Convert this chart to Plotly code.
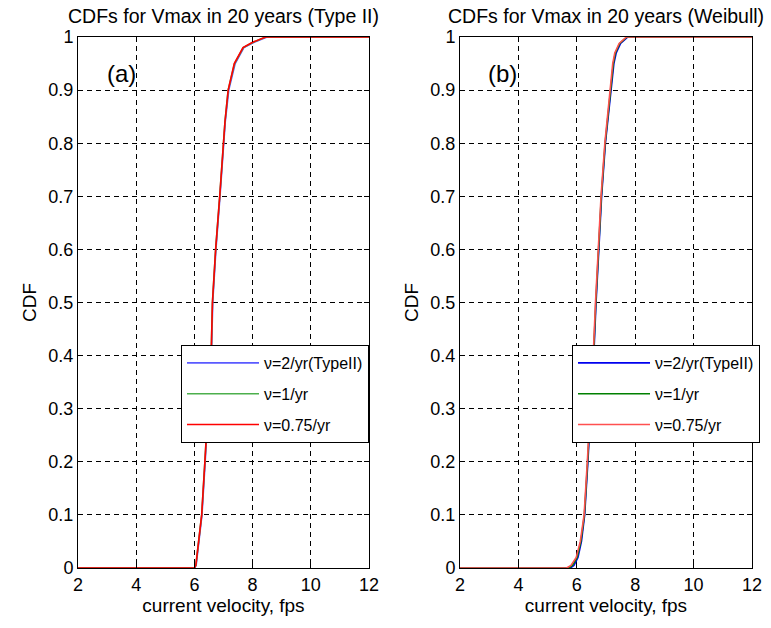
import plotly.graph_objects as go

# ---- data ----
# (a) Type II
a_cdf = [0, 0, 0.005, 0.1, 0.2, 0.3, 0.41, 0.5, 0.6, 0.7, 0.8, 0.84, 0.9, 0.95, 0.98, 0.99, 1.0, 1.0]
a_red_v = [2, 6.0, 6.05, 6.25, 6.36, 6.47, 6.58, 6.62, 6.73, 6.87, 7.0, 7.05, 7.16, 7.37, 7.67, 8.0, 8.45, 12]
a_grn_v = [2, 6.0, 6.05, 6.25, 6.36, 6.47, 6.58, 6.62, 6.73, 6.87, 7.0, 7.05, 7.16, 7.38, 7.68, 8.02, 8.45, 12]
a_blu_v = [2, 6.01, 6.06, 6.26, 6.37, 6.48, 6.59, 6.63, 6.74, 6.88, 7.01, 7.06, 7.18, 7.4, 7.7, 8.05, 8.5, 12]

# (b) Weibull
b_cdf = [0, 0, 0.005, 0.02, 0.05, 0.1, 0.2, 0.3, 0.41, 0.5, 0.6, 0.7, 0.8, 0.9, 0.95, 0.97, 0.988, 1.0, 1.0]
b_red_v = [2, 5.65, 5.8, 5.98, 6.12, 6.25, 6.36, 6.47, 6.57, 6.64, 6.74, 6.83, 6.96, 7.14, 7.23, 7.3, 7.45, 7.7, 12]
b_grn_v = [2, 5.72, 5.85, 6.01, 6.14, 6.26, 6.37, 6.48, 6.58, 6.65, 6.75, 6.84, 6.97, 7.15, 7.25, 7.32, 7.47, 7.72, 12]
b_blu_v = [2, 5.78, 5.9, 6.04, 6.16, 6.27, 6.38, 6.49, 6.59, 6.66, 6.76, 6.85, 6.98, 7.17, 7.27, 7.35, 7.5, 7.75, 12]

labels = ["\u03bd=2/yr(TypeII)", "\u03bd=1/yr", "\u03bd=0.75/yr"]
titles = ["CDFs for Vmax in 20 years (Type II)", "CDFs for Vmax in 20 years (Weibull)"]
x_ticks = [2, 4, 6, 8, 10, 12]
y_ticks = [0, 0.1, 0.2, 0.3, 0.4, 0.5, 0.6, 0.7, 0.8, 0.9, 1]
y_ticktext = ["0", "0.1", "0.2", "0.3", "0.4", "0.5", "0.6", "0.7", "0.8", "0.9", "1"]

FONT = "Liberation Sans, Arial, Helvetica, sans-serif"

fig = go.Figure()

a_cols = ["#5a5aff", "#4caf4c", "#ff0000"]
b_cols = ["#0000ee", "#008000", "#ff5050"]

for v, c, lab in zip([a_blu_v, a_grn_v, a_red_v], a_cols, labels):
    fig.add_trace(go.Scatter(x=v, y=a_cdf, mode="lines", name=lab,
                             line=dict(color=c, width=1.6),
                             xaxis="x", yaxis="y", legend="legend",
                             legendgroup="a" + lab))
for v, c, lab in zip([b_blu_v, b_grn_v, b_red_v], b_cols, labels):
    fig.add_trace(go.Scatter(x=v, y=b_cdf, mode="lines", name=lab,
                             line=dict(color=c, width=1.6),
                             xaxis="x2", yaxis="y2", legend="legend2",
                             legendgroup="b" + lab))

W, H = 771, 628
dom_y = [1 - 568 / H, 1 - 37 / H]
dom_x1 = [78 / W, 369 / W]
dom_x2 = [460 / W, 752 / W]

axis_common = dict(showline=True, linecolor="black", linewidth=1, mirror="ticks",
                   ticks="inside", ticklen=5, tickcolor="black", automargin=False,
                   showgrid=True, gridcolor="black", gridwidth=1, griddash="5px,4px",
                   zeroline=False, tickfont=dict(family=FONT, size=18, color="black"))

xa = dict(range=[2, 12], tickvals=x_ticks, ticktext=[str(t) for t in x_ticks],
          title=dict(text="current velocity, fps", font=dict(family=FONT, size=19, color="black"), standoff=4),
          **axis_common)
ya = dict(range=[0, 1], tickvals=y_ticks, ticktext=y_ticktext,
          title=dict(text="CDF", font=dict(family=FONT, size=19, color="black"), standoff=6),
          **axis_common)

legend_common = dict(bgcolor="white", bordercolor="black", borderwidth=1,
                     font=dict(family=FONT, size=16, color="black"),
                     tracegroupgap=7, yanchor="top", xanchor="left", itemwidth=72)

fig.update_layout(
    width=W, height=H,
    margin=dict(l=0, r=0, t=0, b=0),
    paper_bgcolor="white", plot_bgcolor="white",
    font=dict(family=FONT, color="black"),
    xaxis=dict(domain=dom_x1, anchor="y", **xa),
    yaxis=dict(domain=dom_y, anchor="x", **ya),
    xaxis2=dict(domain=dom_x2, anchor="y2", **xa),
    yaxis2=dict(domain=dom_y, anchor="x2", **ya),
    legend=dict(x=181 / W, y=1 - 345 / H, **legend_common),
    legend2=dict(x=572 / W, y=1 - 345 / H, **legend_common),
    showlegend=True,
    annotations=[
        dict(text=titles[0], x=(dom_x1[0] + dom_x1[1]) / 2, y=1 - 16 / H, xref="paper", yref="paper",
             showarrow=False, font=dict(family=FONT, size=19.5, color="black"), xanchor="center", yanchor="middle"),
        dict(text=titles[1], x=(dom_x2[0] + dom_x2[1]) / 2, y=1 - 16 / H, xref="paper", yref="paper",
             showarrow=False, font=dict(family=FONT, size=19.5, color="black"), xanchor="center", yanchor="middle"),
        dict(text="(a)", x=3.5, y=0.932, xref="x", yref="y", showarrow=False,
             font=dict(family=FONT, size=24, color="black")),
        dict(text="(b)", x=3.44, y=0.932, xref="x2", yref="y2", showarrow=False,
             font=dict(family=FONT, size=24, color="black")),
    ],
)

fig.write_html("out.html")
